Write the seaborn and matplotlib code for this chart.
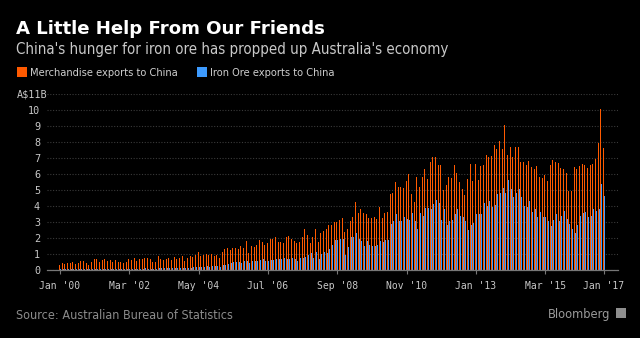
import numpy as np
import pandas as pd
import matplotlib
matplotlib.use("Agg")
import matplotlib.pyplot as plt
import seaborn as sns
from matplotlib import font_manager as fm
from matplotlib.patches import Rectangle

# ---------------- data (A$ billions, monthly Jan 2000 - Jan 2017) ----------------
start_month = "2000-01"
end_month = "2017-01"

merchandise = [
    0.33, 0.48, 0.38, 0.46, 0.46, 0.54, 0.38, 0.48, 0.58, 0.60,
    0.44, 0.31, 0.54, 0.69, 0.71, 0.54, 0.65, 0.71, 0.58, 0.67,
    0.54, 0.65, 0.54, 0.54, 0.46, 0.50, 0.71, 0.65, 0.75, 0.58,
    0.69, 0.69, 0.75, 0.75, 0.71, 0.54, 0.54, 0.92, 0.71, 0.67,
    0.71, 0.75, 0.62, 0.83, 0.71, 0.79, 0.87, 0.60, 0.75, 0.92,
    0.83, 0.96, 1.12, 0.87, 0.96, 1.00, 0.96, 1.04, 0.87, 0.96,
    0.75, 1.17, 1.33, 1.42, 1.29, 1.37, 1.37, 1.31, 1.50, 1.42,
    1.83, 1.06, 1.50, 1.46, 1.56, 1.89, 1.79, 1.56, 1.69, 1.96,
    1.96, 2.06, 1.75, 1.75, 1.69, 2.10, 2.17, 1.96, 1.83, 1.73,
    1.79, 2.10, 2.58, 2.21, 1.69, 2.10, 2.55, 1.75, 2.30, 2.45,
    2.60, 2.80, 2.80, 3.00, 3.00, 3.15, 3.25, 2.40, 2.60, 3.10,
    3.35, 4.25, 3.55, 3.85, 3.55, 3.50, 3.25, 3.25, 3.30, 3.20,
    3.95, 3.25, 3.55, 3.65, 4.75, 4.85, 5.50, 5.20, 5.20, 5.15,
    5.55, 6.00, 4.75, 4.25, 5.80, 5.20, 5.80, 6.30, 5.70, 6.75,
    7.05, 7.05, 6.60, 6.60, 5.00, 5.30, 5.85, 5.75, 6.60, 6.10,
    5.50, 5.05, 4.70, 5.70, 6.65, 5.60, 6.65, 5.65, 6.50, 6.60,
    7.20, 7.05, 7.15, 7.85, 7.60, 8.05, 7.60, 9.10, 7.20, 7.70,
    7.05, 7.70, 7.70, 6.75, 6.75, 6.55, 6.85, 6.45, 6.30, 6.50,
    5.85, 5.75, 5.95, 5.55, 6.60, 6.90, 6.75, 6.70, 6.40, 6.30,
    6.05, 4.95, 4.95, 6.45, 6.30, 6.50, 6.65, 6.60, 6.40, 6.60,
    6.65, 6.95, 7.95, 10.10, 7.65,
]

iron_ore = [
    0.05, 0.06, 0.05, 0.06, 0.07, 0.06, 0.05, 0.07, 0.08, 0.07,
    0.06, 0.05, 0.08, 0.09, 0.10, 0.08, 0.09, 0.10, 0.09, 0.10,
    0.08, 0.09, 0.10, 0.09, 0.08, 0.09, 0.10, 0.10, 0.11, 0.09,
    0.10, 0.11, 0.12, 0.11, 0.10, 0.09, 0.10, 0.13, 0.12, 0.13,
    0.14, 0.13, 0.12, 0.15, 0.14, 0.16, 0.17, 0.13, 0.15, 0.17,
    0.18, 0.20, 0.22, 0.20, 0.22, 0.24, 0.23, 0.25, 0.24, 0.26,
    0.22, 0.30, 0.36, 0.40, 0.45, 0.50, 0.52, 0.50, 0.48, 0.56,
    0.60, 0.44, 0.58, 0.55, 0.60, 0.62, 0.70, 0.55, 0.60, 0.65,
    0.62, 0.68, 0.70, 0.70, 0.75, 0.72, 0.73, 0.74, 0.70, 0.55,
    0.75, 0.78, 0.80, 0.95, 1.10, 0.75, 1.13, 0.70, 1.00, 1.17,
    1.05, 1.35, 1.60, 1.90, 1.90, 1.95, 1.95, 0.95, 1.45, 2.05,
    2.10, 2.30, 1.95, 1.80, 1.50, 1.85, 1.60, 1.50, 1.50, 1.60,
    1.80, 1.75, 1.90, 1.90, 2.90, 3.05, 3.50, 3.05, 3.05, 3.30,
    3.20, 3.15, 3.60, 3.05, 2.60, 3.55, 3.40, 3.90, 3.90, 3.80,
    4.15, 4.40, 4.20, 3.15, 3.80, 2.80, 3.10, 3.15, 3.50, 3.80,
    3.40, 3.35, 3.05, 2.50, 2.85, 2.95, 3.50, 3.50, 3.50, 4.20,
    4.00, 4.30, 3.95, 4.05, 4.75, 4.85, 5.15, 4.85, 5.65, 5.05,
    4.60, 4.85, 5.05, 4.55, 4.00, 3.95, 4.30, 3.65, 3.80, 3.35,
    3.65, 3.35, 3.35, 3.05, 2.75, 3.15, 3.50, 3.05, 3.40, 3.70,
    3.20, 2.90, 2.60, 2.30, 2.80, 3.40, 3.55, 3.65, 3.35, 3.40,
    3.80, 3.70, 3.80, 5.40, 4.65,
]

series_names = ["Merchandise exports to China", "Iron Ore exports to China"]
series_colors = ["#FF5A00", "#3D9BFF"]

tick_months = ["2000-01", "2002-03", "2004-05", "2006-07", "2008-09",
               "2010-11", "2013-01", "2015-03", "2017-01"]
tick_labels = ["Jan '00", "Mar '02", "May '04", "Jul '06", "Sep '08",
               "Nov '10", "Jan '13", "Mar '15", "Jan '17"]
y_ticks = [0, 1, 2, 3, 4, 5, 6, 7, 8, 9, 10]
y_top_label = "A$11B"
y_top_value = 11

title = "A Little Help From Our Friends"
subtitle = "China's hunger for iron ore has propped up Australia's economy"
source = "Source: Australian Bureau of Statistics"
brand = "Bloomberg"

# ---------------- build table ----------------
months = pd.period_range(start_month, end_month, freq="M")
n = len(months)
pos = np.arange(n)
df = pd.concat([
    pd.DataFrame({"pos": pos, "value": merchandise, "series": series_names[0]}),
    pd.DataFrame({"pos": pos, "value": iron_ore, "series": series_names[1]}),
], ignore_index=True)
month_index = {str(p): i for i, p in enumerate(months)}
tick_pos = [month_index[m] for m in tick_months]

# ---------------- fonts ----------------
names = [(f.name, f.stretch) for f in fm.fontManager.ttflist]
if any(nm == "DejaVu Sans Condensed" for nm, _ in names):
    cond = dict(family="DejaVu Sans Condensed")
    condensed = True
elif any(nm == "DejaVu Sans" and st == "condensed" for nm, st in names):
    cond = dict(family="DejaVu Sans", fontstretch="condensed")
    condensed = True
else:
    cond = dict(family="DejaVu Sans")
    condensed = False

sub_size = 10.8 if condensed else 9.7
leg_size = 7.9 if condensed else 7.1
src_size = 9.0 if condensed else 8.1
brand_size = 9.2 if condensed else 8.3

# ---------------- figure ----------------
W, H = 640, 338
fig = plt.figure(figsize=(W / 100, H / 100), dpi=100, facecolor="black")


def fx(x):
    return x / W


def fy(y):
    return 1 - y / H


ax_left, ax_right, ax_top, ax_bottom = 47, 618, 94.0, 270.3
ax = fig.add_axes([fx(ax_left), fy(ax_bottom), (ax_right - ax_left) / W,
                   (ax_bottom - ax_top) / H])
ax.set_facecolor("black")

sns.barplot(data=df, x="pos", y="value", hue="series", hue_order=series_names,
            palette=series_colors, width=0.85, saturation=1, legend=False,
            errorbar=None, linewidth=0, ax=ax)

px_per_unit = (604 - 60) / (tick_pos[-1] - tick_pos[0])
ax.set_xlim(tick_pos[0] - (60 - ax_left) / px_per_unit,
            tick_pos[-1] + (ax_right - 604) / px_per_unit)
ax.set_ylim(0, y_top_value + 0.01)

ax.set_xlabel("")
ax.set_ylabel("")
ax.set_xticks(tick_pos)
ax.set_xticklabels(tick_labels, family="DejaVu Sans Mono", fontsize=7.0,
                   color="#c8c8c8")
ax.set_yticks(y_ticks + [y_top_value])
ax.set_yticklabels([str(t) for t in y_ticks] + [""], family="DejaVu Sans Mono",
                   fontsize=7.3, color="#c8c8c8")
ax.tick_params(axis="x", length=3, width=0.8, color="#777777", pad=4.5)
ax.tick_params(axis="y", length=0, pad=5)

for s in ["top", "right", "left"]:
    ax.spines[s].set_visible(False)
ax.spines["bottom"].set_color("#777777")
ax.spines["bottom"].set_linewidth(0.9)
ax.spines["bottom"].set_zorder(5)

ax.set_axisbelow(True)
ax.yaxis.grid(True, color="#3a3a3a", linestyle=(0, (1, 1.5)), linewidth=0.8)
ax.xaxis.grid(False)

# y unit label
fig.text(fx(16.7), fy(97.7), y_top_label, family="DejaVu Sans Mono",
         fontsize=7.3, color="#c8c8c8", ha="left", va="baseline")

# ---------------- header ----------------
fig.text(fx(16.5), fy(34.3), title, family="DejaVu Sans", fontweight="bold",
         fontsize=13.1, color="white", ha="left", va="baseline")
fig.text(fx(16.5), fy(54.3), subtitle, fontsize=sub_size, color="#c8c8c8",
         ha="left", va="baseline", **cond)

# legend
leg_items = [(16.7, 30.0), (196.7, 210.0)]
for (sq_x, tx_x), name, col in zip(leg_items, series_names, series_colors):
    fig.patches.append(Rectangle((fx(sq_x), fy(76.7)), 10 / W, 10 / H,
                                 transform=fig.transFigure, facecolor=col,
                                 edgecolor="none"))
    fig.text(fx(tx_x), fy(76.0), name, fontsize=leg_size, color="#cfcfcf",
             ha="left", va="baseline", **cond)

# ---------------- footer ----------------
fig.text(fx(16.0), fy(319.0), source, fontsize=src_size, color="#8c8c8c",
         ha="left", va="baseline", **cond)
fig.text(fx(610.5), fy(317.7), brand, fontsize=brand_size, color="#9a9a9a",
         ha="right", va="baseline", **cond)
fig.patches.append(Rectangle((fx(616), fy(318)), 10 / W, 10 / H,
                             transform=fig.transFigure, facecolor="#8e8e8e",
                             edgecolor="none"))

fig.savefig("out.png", dpi=100, facecolor="black")
